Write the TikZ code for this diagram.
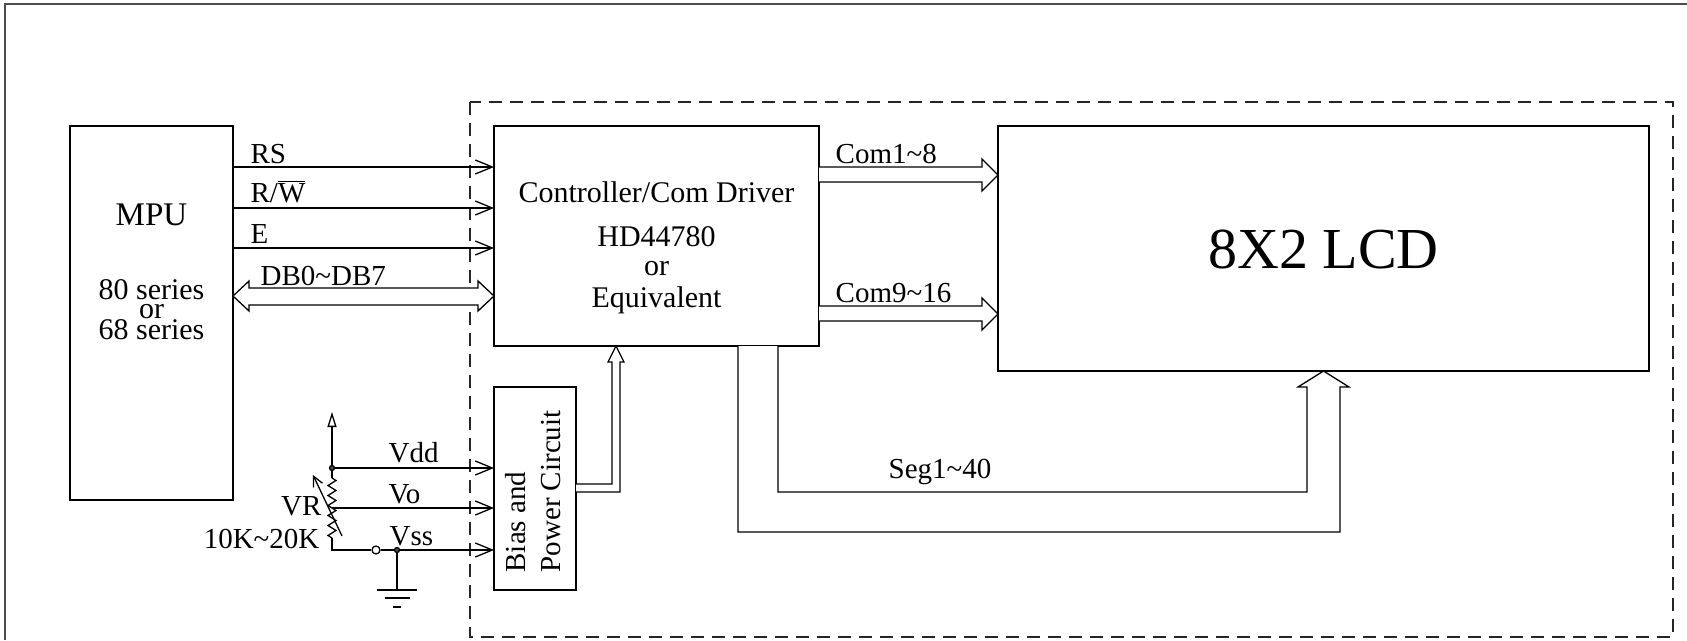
\documentclass[tikz,border=0pt]{standalone}
\usepackage{fontspec}
\setmainfont{Liberation Serif}
\usepackage{tikz}
\usetikzlibrary{arrows.meta}
\usetikzlibrary{calc}
\usetikzlibrary{decorations.pathmorphing}
\tikzset{
    box/.style={draw=black, inner sep=0pt, outer sep=0pt},
    sig/.style={draw=black, -{Straight Barb[length=17pt,width=14pt]}},
    bus/.style={draw=black, fill=white, line join=miter},
    lbl/.style={inner sep=0pt, font=\fontsize{29}{34}\selectfont},
    mid/.style={inner sep=0pt, font=\fontsize{30}{34}\selectfont},
    big/.style={inner sep=0pt, font=\fontsize{58}{66}\selectfont},
    dot/.style={circle, draw=black, fill=black!70, inner sep=0pt, minimum size=5pt},
    term/.style={circle, draw=black, fill=white, inner sep=0pt, minimum size=8pt},
    resistor/.style={decorate, decoration={zigzag, amplitude=4pt, segment length=10pt}},
    frame/.style={draw=black!70, line width=2pt},
    boundary/.style={draw=black!85, dash pattern=on 13pt off 8pt},
}

\begin{document}
\begin{tikzpicture}[x=1pt, y=-1pt, line width=1.3pt]
	\useasboundingbox (0,0) rectangle (1687,640);
	\draw[frame] (5,640) -- (5,4) -- (1687,4);
	\draw[boundary] (470,102) rectangle (1673,637);

	% blocks
	\node[box, minimum width=163, minimum height=374] (mpu) at (151.5,313) {};
	\node[box, minimum width=325, minimum height=220] (ctrl) at (656.5,236) {};
	\node[box, minimum width=651, minimum height=245] (lcd) at (1323.5,248.5) {};
	\node[box, minimum width=82, minimum height=203] (bias) at (535,488.5) {};

	% block texts
	\node[lbl, anchor=base, font=\fontsize{33}{38}\selectfont] (mputitle) at (151.5,225) {MPU};
	\node[mid, anchor=base] (mpuser1) at (151.5,299) {80 series};
	\node[mid, anchor=base] (mpuor) at (151.5,318) {or};
	\node[mid, anchor=base] (mpuser2) at (151.5,339) {68 series};
	\node[mid, anchor=base] (ctrltitle) at (656.5,202) {Controller/Com Driver};
	\node[mid, anchor=base] (ctrlchip) at (656.5,246) {HD44780};
	\node[mid, anchor=base] (ctrlor) at (656.5,275) {or};
	\node[mid, anchor=base] (ctrlequ) at (656.5,307) {Equivalent};
	\node[big, anchor=base] (lcdtitle) at (1323.5,268) {8X2 LCD};
	\node[lbl, rotate=90, anchor=base west] (biasa) at (525,573) {Bias and};
	\node[lbl, rotate=90, anchor=base west] (biasb) at (560,573) {Power Circuit};

	% MPU interface
	\draw[sig] ($(mpu.north east)+(0,41)$) -- ($(ctrl.north west)+(0,41)$);
	\draw[sig] ($(mpu.north east)+(0,82)$) -- ($(ctrl.north west)+(0,82)$);
	\draw[sig] ($(mpu.north east)+(0,122)$) -- ($(ctrl.north west)+(0,122)$);
	\draw[bus] ($(mpu.north east)+(0,170)$) -- ++(16,-15) -- ++(0,7) -- ($(ctrl.north west)+(-16,162)$)
		-- ++(0,-7) -- ($(ctrl.north west)+(0,170)$) -- ++(-16,15) -- ++(0,-6)
		-- ($(mpu.north east)+(16,179)$) -- ++(0,6) -- cycle;
	\node[lbl, anchor=base west] (rs) at (250,163) {RS};
	\node[lbl, anchor=base west] (rw) at (250,202) {R/$\overline{\mbox{W}}$};
	\node[lbl, anchor=base west] (en) at (250,243) {E};
	\node[lbl, anchor=base west] (db) at (260,285) {DB0\textasciitilde DB7};

	% common outputs
	\draw[bus] ($(ctrl.north east)+(0,41)$) -- ($(lcd.north west)+(-16,41)$) -- ++(0,-8)
		-- ($(lcd.north west)+(0,49)$) -- ++(-16,16) -- ++(0,-9) -- ($(ctrl.north east)+(0,56)$);
	\draw[bus] ($(ctrl.north east)+(0,180)$) -- ($(lcd.north west)+(-16,180)$) -- ++(0,-8)
		-- ($(lcd.north west)+(0,188)$) -- ++(-16,16) -- ++(0,-9) -- ($(ctrl.north east)+(0,195)$);
	\node[lbl, anchor=base west] (com1) at (835,163) {Com1\textasciitilde 8};
	\node[lbl, anchor=base west] (com2) at (835,302) {Com9\textasciitilde 16};

	% segment outputs
	\draw[bus] ($(ctrl.south west)+(244,0)$) |- ($(lcd.south)+(16.5,161)$) -- ($(lcd.south)+(16.5,16)$)
		-- ++(9,0) -- (lcd.south) -- ($(lcd.south)+(-25.5,16)$) -- ++(9,0)
		|- ($(ctrl.south west)+(284,146)$) -- ($(ctrl.south west)+(284,0)$);
	\node[lbl, anchor=base west] (seg) at (888,478) {Seg1\textasciitilde 40};

	% bias supply to controller
	\draw[bus] ($(bias.north east)+(0,97)$) -| ($(ctrl.south west)+(118,16)$) -- ++(-4,0)
		-- ($(ctrl.south west)+(122,0)$) -- ++(8,16) -- ++(-4,0) |- ($(bias.north east)+(0,105)$);

	% contrast adjustment
	\node[dot] (jdd) at (332,468) {};
	\node[term] (jss) at (376,550) {};
	\coordinate (gndtap) at (397,550);
	\coordinate (vcc) at (332,412);
	\coordinate (rtop) at (332,478);
	\coordinate (rbot) at (332,538);
	\coordinate (wiper) at (332,508);
	\coordinate (gnd) at (397,590);
	\draw[-{Triangle[open,length=15pt,width=9pt]}] (jdd) -- (vcc);
	\draw (jdd) -- (rtop);
	\draw[resistor] (rtop) -- (rbot);
	\draw (rbot) |- (jss.west);
	\draw[-{Straight Barb[length=10pt,width=10pt]}] (342,536) -- (313,475);
	\draw[sig] (jdd) -- (jdd -| bias.west);
	\draw[sig] (wiper) -- (wiper -| bias.west);
	\draw[sig] (jss.east) -- (jss -| bias.west);
	\draw (gndtap) -- (gnd);
	\draw ($(gnd)+(-20,0)$) -- ($(gnd)+(20,0)$);
	\draw ($(gnd)+(-12.5,8)$) -- ($(gnd)+(12.5,8)$);
	\draw ($(gnd)+(-4,17)$) -- ($(gnd)+(4,17)$);
	\node[dot] (jgnd) at (gndtap) {};
	\node[lbl, anchor=base west] (vdd) at (388,462) {Vdd};
	\node[lbl, anchor=base west] (vo) at (388,503) {Vo};
	\node[lbl, anchor=base west] (vss) at (389,545) {Vss};
	\node[lbl, anchor=base east] (vr) at (322,515) {VR};
	\node[lbl, anchor=base east] (vrval) at (320,548) {10K\textasciitilde 20K};
\end{tikzpicture}
\end{document}
